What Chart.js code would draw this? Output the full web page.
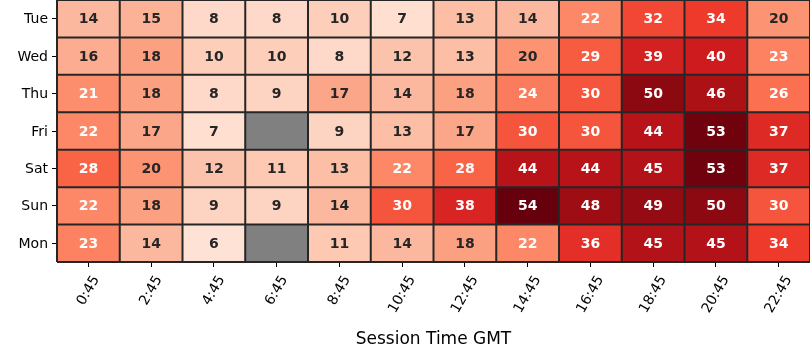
<!DOCTYPE html>
<html>
<head>
<meta charset="utf-8">
<script src="https://cdn.jsdelivr.net/npm/chart.js@4/dist/chart.umd.min.js"></script>
<style>
  html, body { margin: 0; padding: 0; background: #fff; }
  #wrap { width: 810px; height: 360px; }
</style>
</head>
<body>
<div id="wrap"><canvas id="heat"></canvas></div>
<script>
// filas y columnas del mapa de calor
const days = ['Tue', 'Wed', 'Thu', 'Fri', 'Sat', 'Sun', 'Mon'];
const times = ['0:45', '2:45', '4:45', '6:45', '8:45', '10:45', '12:45', '14:45', '16:45', '18:45', '20:45', '22:45'];

// valores por día (null = sin dato, celda gris)
const tue = [14, 15, 8, 8, 10, 7, 13, 14, 22, 32, 34, 20];
const wed = [16, 18, 10, 10, 8, 12, 13, 20, 29, 39, 40, 23];
const thu = [21, 18, 8, 9, 17, 14, 18, 24, 30, 50, 46, 26];
const fri = [22, 17, 7, null, 9, 13, 17, 30, 30, 44, 53, 37];
const sat = [28, 20, 12, 11, 13, 22, 28, 44, 44, 45, 53, 37];
const sun = [22, 18, 9, 9, 14, 30, 38, 54, 48, 49, 50, 30];
const mon = [23, 14, 6, null, 11, 14, 18, 22, 36, 45, 45, 34];
const rows = [tue, wed, thu, fri, sat, sun, mon];

const vmin = 0, vmax = 54;

// paleta "Reds" de matplotlib (ColorBrewer, 9 puntos)
const reds = ['#fff5f0', '#fee0d2', '#fcbba1', '#fc9272', '#fb6a4a', '#ef3b2c', '#cb181d', '#a50f15', '#67000d'];

function hexToRgb(h) {
    return [parseInt(h.slice(1, 3), 16), parseInt(h.slice(3, 5), 16), parseInt(h.slice(5, 7), 16)];
}

function cellColor(value) {
    if (value === null) return '#808080';
    let t = (value - vmin) / (vmax - vmin);
    t = Math.max(0, Math.min(1, t)) * (reds.length - 1);
    const i = Math.min(Math.floor(t), reds.length - 2);
    const f = t - i;
    const a = hexToRgb(reds[i]), b = hexToRgb(reds[i + 1]);
    const c = a.map((v, k) => Math.round(v + (b[k] - v) * f));
    return 'rgb(' + c.join(',') + ')';
}

function textColor(value) {
    return value > 20 ? '#ffffff' : '#262626';
}

Chart.defaults.font.family = "'DejaVu Sans', sans-serif";

// líneas de separación entre celdas, sacadas de las escalas
const cellGrid = {
    id: 'cellGrid',
    afterDatasetsDraw(chart) {
        const ctx = chart.ctx;
        const xs = chart.scales.x, ys = chart.scales.y;
        const half = (xs.getPixelForTick(1) - xs.getPixelForTick(0)) / 2;
        const x0 = xs.getPixelForTick(0) - half;
        const x1 = xs.getPixelForTick(times.length - 1) + half;
        const y0 = ys.getPixelForValue(0), y1 = ys.getPixelForValue(days.length);
        ctx.save();
        ctx.strokeStyle = '#262626';
        ctx.lineWidth = 2;
        ctx.beginPath();
        for (let i = 0; i <= times.length; i++) {
            const x = xs.getPixelForTick(0) - half + i * half * 2;
            ctx.moveTo(x, y0);
            ctx.lineTo(x, y1);
        }
        for (let k = 0; k <= days.length; k++) {
            const y = ys.getPixelForValue(k);
            ctx.moveTo(x0, y);
            ctx.lineTo(x1, y);
        }
        ctx.stroke();
        ctx.restore();
    }
};

// etiquetas dentro de cada celda
const cellLabels = {
    id: 'cellLabels',
    afterDatasetsDraw(chart) {
        const ctx = chart.ctx;
        ctx.save();
        ctx.font = "bold 14px 'DejaVu Sans'";
        ctx.textAlign = 'center';
        ctx.textBaseline = 'middle';
        chart.data.datasets.forEach((ds, i) => {
            const meta = chart.getDatasetMeta(i);
            meta.data.forEach((bar, j) => {
                const v = ds.values[j];
                if (v === null) return;
                const p = bar.getCenterPoint();
                ctx.fillStyle = textColor(v);
                ctx.fillText(String(v), p.x, p.y + 1);
            });
        });
        ctx.restore();
    }
};

// etiquetas del eje x giradas 60 grados y centradas bajo la marca
const rotatedTicks = {
    id: 'rotatedTicks',
    afterDraw(chart) {
        const ctx = chart.ctx;
        const xs = chart.scales.x;
        const fs = 14;
        const ang = 60 * Math.PI / 180;
        const top = xs.top + 11;
        ctx.save();
        ctx.font = fs + "px 'DejaVu Sans'";
        ctx.fillStyle = '#000';
        ctx.textAlign = 'center';
        ctx.textBaseline = 'middle';
        times.forEach((t, i) => {
            const x = xs.getPixelForTick(i);
            const w = ctx.measureText(t).width;
            const h = fs * 1.164;
            const bboxH = w * Math.sin(ang) + h * Math.cos(ang);
            ctx.save();
            ctx.translate(x, top + bboxH / 2);
            ctx.rotate(-ang);
            ctx.fillText(t, 0, 0);
            ctx.restore();
        });
        ctx.restore();
    }
};

const datasets = rows.map((vals, r) => ({
    label: days[r],
    values: vals,
    data: vals.map(() => [r, r + 1]),
    backgroundColor: vals.map(cellColor),
    borderWidth: 0,
    borderSkipped: false,
    inflateAmount: 0.5,
    grouped: false,
    barPercentage: 1,
    categoryPercentage: 1
}));

new Chart(document.getElementById('heat'), {
    type: 'bar',
    data: { labels: times, datasets: datasets },
    options: {
        responsive: true,
        maintainAspectRatio: false,
        animation: false,
        events: [],
        layout: { padding: 0 },
        plugins: { legend: { display: false }, tooltip: { enabled: false } },
        scales: {
            x: {
                type: 'category',
                offset: true,
                border: { display: false },
                grid: { drawOnChartArea: false, drawTicks: true, tickLength: 5, offset: false, color: '#000', lineWidth: 1 },
                ticks: { display: false },
                title: { display: true, text: 'Session Time GMT', color: '#000', font: { size: 17 }, padding: { top: 0, bottom: 10 } },
                afterFit(scale) {
                    scale.height = 98;
                    scale.paddingLeft = 0;
                    scale.paddingRight = 0;
                }
            },
            y: {
                type: 'linear',
                min: 0,
                max: 7,
                reverse: true,
                border: { display: false },
                grid: { drawOnChartArea: false, drawTicks: true, tickLength: 5, color: '#000', lineWidth: 1 },
                afterBuildTicks(scale) {
                    scale.ticks = days.map((d, i) => ({ value: i + 0.5 }));
                },
                ticks: {
                    color: '#000',
                    font: { size: 14 },
                    padding: 4,
                    labelOffset: 1,
                    autoSkip: false,
                    callback: (v) => days[Math.floor(v)]
                },
                afterFit(scale) {
                    scale.width = 57;
                    scale.paddingTop = 0;
                    scale.paddingBottom = 0;
                }
            }
        }
    },
    plugins: [cellGrid, cellLabels, rotatedTicks]
});
</script>
</body>
</html>
